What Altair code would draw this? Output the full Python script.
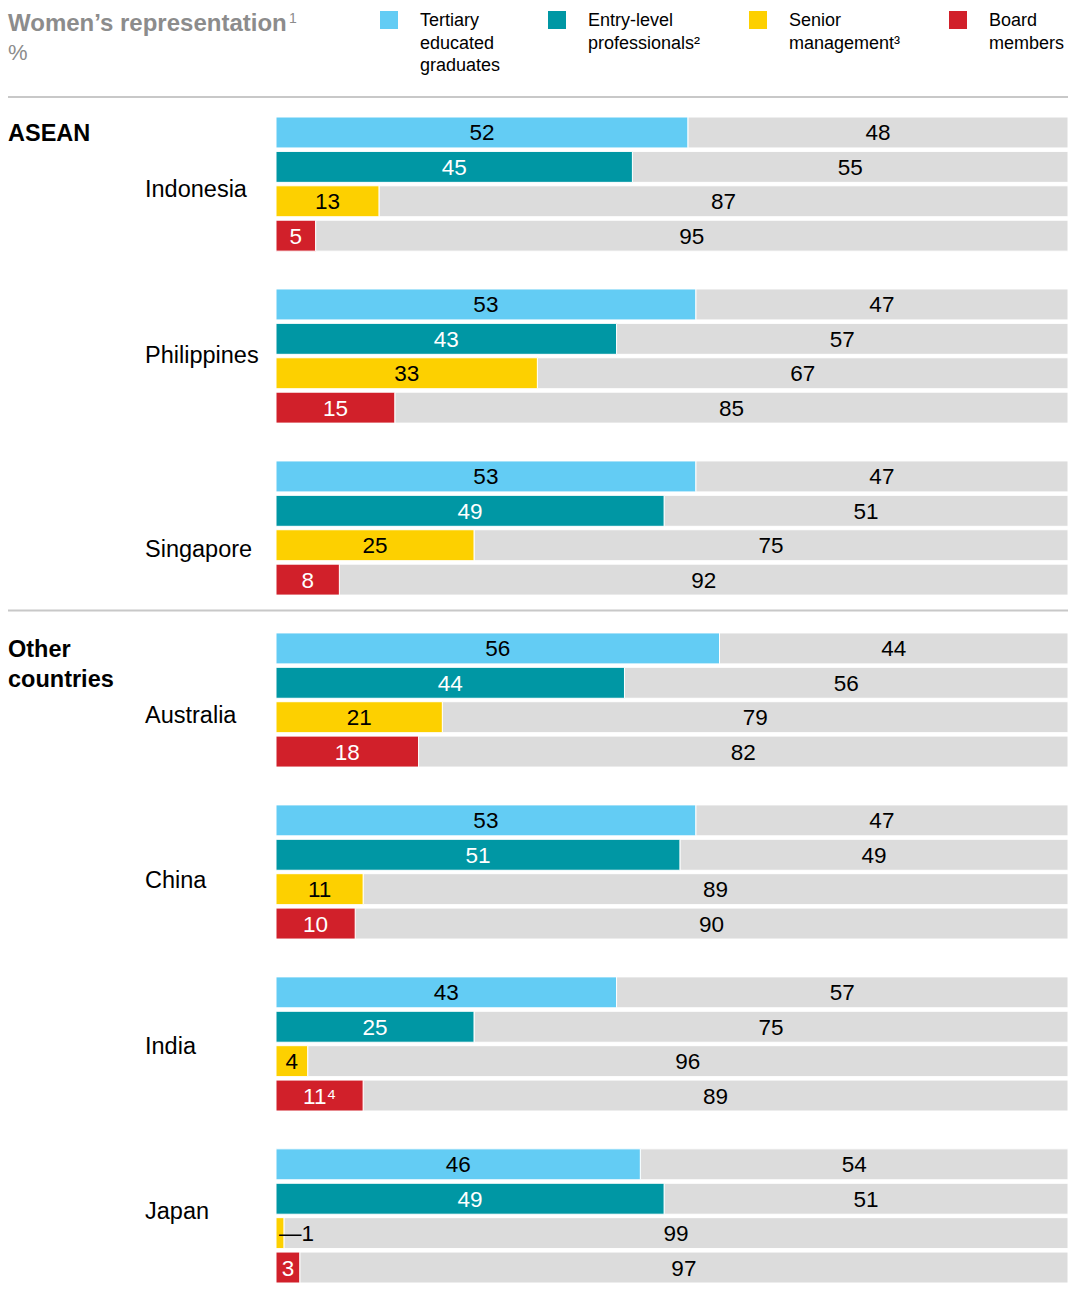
import altair as alt
import pandas as pd

# ---------------- data ----------------
COUNTRIES = ["Indonesia", "Philippines", "Singapore", "Australia", "China", "India", "Japan"]
GROUPS = ["ASEAN", "Other countries"]
GROUP_FIRST_COUNTRY = [0, 3]
MEASURES = ["Tertiary educated graduates", "Entry-level professionals²",
            "Senior management³", "Board members"]
LEGEND_LINES = [["Tertiary", "educated", "graduates"],
                ["Entry-level", "professionals²"],
                ["Senior", "management³"],
                ["Board", "members"]]
TERTIARY = [52, 53, 53, 56, 53, 43, 46]
ENTRY = [45, 43, 49, 44, 51, 25, 49]
SENIOR = [13, 33, 25, 21, 11, 4, 1]
BOARD = [5, 15, 8, 18, 10, 11, 3]
FOOTNOTE_MARKS = {("India", 3): "⁴"}

# ---------------- style ----------------
COLORS = ["#63CCF4", "#0097A4", "#FDD000", "#D1202A"]
TEXT_COLORS = ["#000000", "#ffffff", "#000000", "#ffffff"]
GRAY = "#DCDCDC"
FONT = "Liberation Sans"
SLOTS_PER_GROUP = 5
BAR_FRAC = 0.9
COUNTRY_LABEL_SHIFT = [0.17, 0.0, 0.64, 0.47, 0.26, 0.09, -0.11]
LEGEND_X = [104, 272, 473, 673]  # relative to plot origin (pixels)

series = [TERTIARY, ENTRY, SENIOR, BOARD]
rows = []
for i, c in enumerate(COUNTRIES):
    for j, m in enumerate(MEASURES):
        v = series[j][i]
        slot = i * SLOTS_PER_GROUP + j
        lab = str(v) + FOOTNOTE_MARKS.get((c, j), "")
        rows.append(dict(country=c, measure=m, value=v, rest=100 - v,
                         restlab=str(100 - v), label=lab,
                         small_label="—" + str(v),
                         y=slot, y2=slot + BAR_FRAC, ymid=slot + BAR_FRAC / 2,
                         xmid=v / 2, xrest=(v + 100) / 2, full=100,
                         tcol=TEXT_COLORS[j], zero=0))
df = pd.DataFrame(rows)

Y_SCALE = alt.Scale(domain=[0, 6 * SLOTS_PER_GROUP + 3 + BAR_FRAC], reverse=True, nice=False, zero=False)
X_SCALE = alt.Scale(domain=[0, 100], nice=False, zero=True)
COLOR_SCALE = alt.Scale(domain=MEASURES, range=COLORS)

base = alt.Chart(df)

gray_bars = base.mark_rect(color=GRAY, stroke="white", strokeWidth=1).encode(
    x=alt.X("value:Q", scale=X_SCALE, axis=None),
    x2="full:Q",
    y=alt.Y("y:Q", scale=Y_SCALE, axis=None),
    y2="y2:Q",
)
color_bars = base.mark_rect(stroke="white", strokeWidth=1).encode(
    x=alt.X("zero:Q", scale=X_SCALE, axis=None),
    x2="value:Q",
    y=alt.Y("y:Q", scale=Y_SCALE, axis=None),
    y2="y2:Q",
    color=alt.Color("measure:N", scale=COLOR_SCALE, legend=None),
)
val_labels = base.transform_filter("datum.value >= 3").mark_text(
    font=FONT, fontSize=22.5, align="center", baseline="middle", dy=1
).encode(
    x=alt.X("xmid:Q", scale=X_SCALE, axis=None),
    y=alt.Y("ymid:Q", scale=Y_SCALE, axis=None),
    text="label:N",
    color=alt.Color("tcol:N", scale=None),
)
small_labels = base.transform_filter("datum.value < 3").mark_text(
    font=FONT, fontSize=22.5, align="left", baseline="middle", dy=1, dx=-1, color="#000000"
).encode(
    x=alt.X("xmid:Q", scale=X_SCALE, axis=None),
    y=alt.Y("ymid:Q", scale=Y_SCALE, axis=None),
    text="small_label:N",
)
rest_labels = base.mark_text(
    font=FONT, fontSize=22.5, align="center", baseline="middle", dy=1, color="#000000"
).encode(
    x=alt.X("xrest:Q", scale=X_SCALE, axis=None),
    y=alt.Y("ymid:Q", scale=Y_SCALE, axis=None),
    text="restlab:N",
)

# country labels
cdf = pd.DataFrame({
    "country": COUNTRIES,
    "yc": [i * SLOTS_PER_GROUP + (3 + BAR_FRAC) / 2 + COUNTRY_LABEL_SHIFT[i]
           for i in range(len(COUNTRIES))],
})
country_labels = alt.Chart(cdf).mark_text(
    font=FONT, fontSize=23.5, align="left", baseline="middle", color="#000000"
).encode(
    x=alt.value(-131),
    y=alt.Y("yc:Q", scale=Y_SCALE, axis=None),
    text="country:N",
)

# group labels (multi-line split into rows)
grows = []
for g, first in zip(GROUPS, GROUP_FIRST_COUNTRY):
    for k, word in enumerate(g.split(" ")):
        grows.append(dict(text=word, yg=first * SLOTS_PER_GROUP + BAR_FRAC / 2 + 0.05 + k * 0.87))
gdf = pd.DataFrame(grows)
group_labels = alt.Chart(gdf).mark_text(
    font=FONT, fontSize=23.5, fontWeight="bold", align="left", baseline="middle", color="#000000"
).encode(
    x=alt.value(-268),
    y=alt.Y("yg:Q", scale=Y_SCALE, axis=None),
    text="text:N",
)

# separators
top_rule = alt.Chart(pd.DataFrame({"a": [0]})).mark_rule(color="#C8C8C8", strokeWidth=2).encode(
    x=alt.value(-268), x2=alt.value(792), y=alt.value(-20)
)
mid_rule = alt.Chart(pd.DataFrame({"ys": [3 * SLOTS_PER_GROUP - 0.65]})).mark_rule(
    color="#C8C8C8", strokeWidth=2
).encode(
    x=alt.value(-268), x2=alt.value(792),
    y=alt.Y("ys:Q", scale=Y_SCALE, axis=None),
)

# title
title_df = pd.DataFrame({"t": ["Women’s representation", "%"], "ty": [-93, -64]})
title_main = alt.Chart(title_df.iloc[[0]]).mark_text(
    font=FONT, fontSize=24, fontWeight="bold", align="left", baseline="middle", color="#8C8C8C"
).encode(x=alt.value(-268), y=alt.Y("ty:Q", scale=None), text="t:N")
title_sup = alt.Chart(pd.DataFrame({"t": ["1"]})).mark_text(
    font=FONT, fontSize=14, align="left", baseline="middle", color="#8C8C8C"
).encode(x=alt.value(13), y=alt.value(-98), text="t:N")
title_sub = alt.Chart(title_df.iloc[[1]]).mark_text(
    font=FONT, fontSize=22, align="left", baseline="middle", color="#8C8C8C"
).encode(x=alt.value(-268), y=alt.Y("ty:Q", scale=None), text="t:N")

# legend
ldf = pd.DataFrame({"measure": MEASURES, "lx": LEGEND_X,
                    "lx2": [v + 18 for v in LEGEND_X]})
ldf["ly"] = -106
ldf["ly2"] = -88
legend_sq = alt.Chart(ldf).mark_rect().encode(
    x=alt.X("lx:Q", scale=None), x2="lx2:Q",
    y=alt.Y("ly:Q", scale=None), y2="ly2:Q",
    color=alt.Color("measure:N", scale=COLOR_SCALE, legend=None),
)
lt = []
for j, lines in enumerate(LEGEND_LINES):
    for k, line in enumerate(lines):
        lt.append(dict(text=line, tx=LEGEND_X[j] + 40, ty=-96 + k * 22.5))
ltdf = pd.DataFrame(lt)
legend_txt = alt.Chart(ltdf).mark_text(
    font=FONT, fontSize=18, align="left", baseline="middle", color="#000000"
).encode(
    x=alt.X("tx:Q", scale=None), y=alt.Y("ty:Q", scale=None), text="text:N"
)

chart = alt.layer(
    gray_bars, color_bars, val_labels, small_labels, rest_labels,
    country_labels, group_labels, top_rule, mid_rule,
    title_main, title_sup, title_sub, legend_sq, legend_txt,
).properties(
    width=792, height=1166,
    autosize=alt.AutoSizeParams(type="none"),
    padding={"left": 276, "top": 117, "right": 1, "bottom": 10},
    background="white",
).configure_view(stroke=None)

chart.save("out.html", embed_options={"renderer": "svg", "actions": False})
